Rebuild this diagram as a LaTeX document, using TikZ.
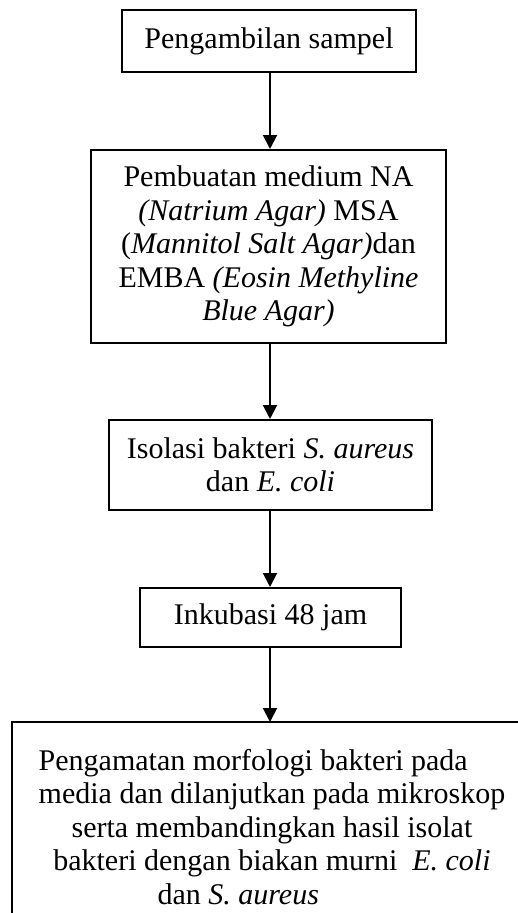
\documentclass[tikz,border=0pt]{standalone}
\usepackage{fontspec}
\setmainfont{Liberation Serif}
\usetikzlibrary{arrows.meta}
\begin{document}
\begin{tikzpicture}[x=0.4pt,y=-0.4pt,
  boxstyle/.style={draw=black,line width=0.8pt,inner sep=0pt,align=center,
    font=\fontsize{12}{13.4}\selectfont},
  flowarrow/.style={line width=0.8pt,-{Triangle[width=5.6pt,length=5.6pt]}}]
\useasboundingbox (0,0) rectangle (518,913);
\clip (0,0) rectangle (518,913);
\coordinate (ax) at (270,0);
\node[boxstyle,minimum width=117.6pt,minimum height=24.8pt] (b1) at (269,41) {Pengambilan sampel};
\node[boxstyle,minimum width=142pt,minimum height=77.2pt] (b2) at (268.5,246.5)
  {Pembuatan medium NA\\ \textit{(Natrium Agar)} MSA\\ (\textit{Mannitol Salt Agar)}dan\\ EMBA \textit{(Eosin Methyline}\\ \textit{Blue Agar)}};
\node[boxstyle,minimum width=129.2pt,minimum height=36pt] (b3) at (270.5,465)
  {Isolasi bakteri \textit{S. aureus}\\ dan \textit{E. coli}};
\node[boxstyle,minimum width=104.4pt,minimum height=23.6pt] (b4) at (270.5,617.5) {Inkubasi 48 jam};
\coordinate (b5tl) at (12,722);
\coordinate (b5bl) at (12,930);
\coordinate (b5tr) at (540,722);
\coordinate (b5n) at (270,722);
\draw[line width=0.8pt] (b5bl) -- (b5tl) -- (b5tr);
\node[boxstyle,draw=none] (b5) at (272,827)
  {Pengamatan morfologi bakteri pada\hspace*{15pt}\\
   media dan dilanjutkan pada mikroskop\\
   serta membandingkan hasil isolat\\
   bakteri dengan biakan murni \ \textit{E. coli}\hspace*{6pt}\\
   dan \textit{S. aureus}\hspace*{27pt}};
\draw[flowarrow] (b1.south -| ax) -- (b2.north -| ax);
\draw[flowarrow] (b2.south -| ax) -- (b3.north -| ax);
\draw[flowarrow] (b3.south -| ax) -- (b4.north -| ax);
\draw[flowarrow] (b4.south -| ax) -- (b5n);
\end{tikzpicture}
\end{document}
